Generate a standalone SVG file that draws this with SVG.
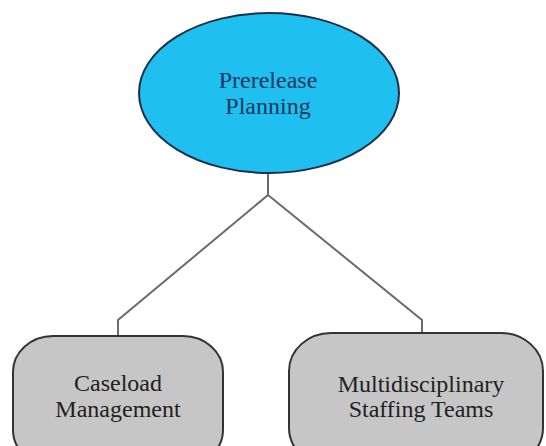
<svg xmlns="http://www.w3.org/2000/svg" width="546" height="446" viewBox="0 0 546 446">
  <style>
    .label { font-family: "Liberation Serif", "Times New Roman", serif; font-size: 24px; text-anchor: middle; }
    .root-label { fill: #17375e; }
    .child-label { fill: #222222; }
    .child-box { fill: #c6c6c6; stroke: #333333; stroke-width: 2; }
    .link { fill: none; stroke: #6b6b6b; stroke-width: 2; }
  </style>
  <rect width="546" height="446" fill="#ffffff"/>

  <g id="connectors">
    <path class="link" d="M268 173 V195 L118 320 V337"/>
    <path class="link" d="M268 195 L422 320 V334"/>
  </g>

  <g id="prerelease-planning">
    <ellipse cx="269" cy="93" rx="130" ry="80" fill="#1fbfef" stroke="#1d2f4a" stroke-width="2"/>
    <text class="label root-label" x="268" y="88">Prerelease</text>
    <text class="label root-label" x="268" y="114">Planning</text>
  </g>

  <g id="caseload-management">
    <rect class="child-box" x="13" y="336" width="210" height="130" rx="40" ry="36"/>
    <text class="label child-label" x="118" y="391">Caseload</text>
    <text class="label child-label" x="118" y="417">Management</text>
  </g>

  <g id="multidisciplinary-staffing-teams">
    <rect class="child-box" x="289" y="333" width="254" height="133" rx="42" ry="38"/>
    <text class="label child-label" x="421" y="392">Multidisciplinary</text>
    <text class="label child-label" x="421" y="417">Staffing Teams</text>
  </g>
</svg>
